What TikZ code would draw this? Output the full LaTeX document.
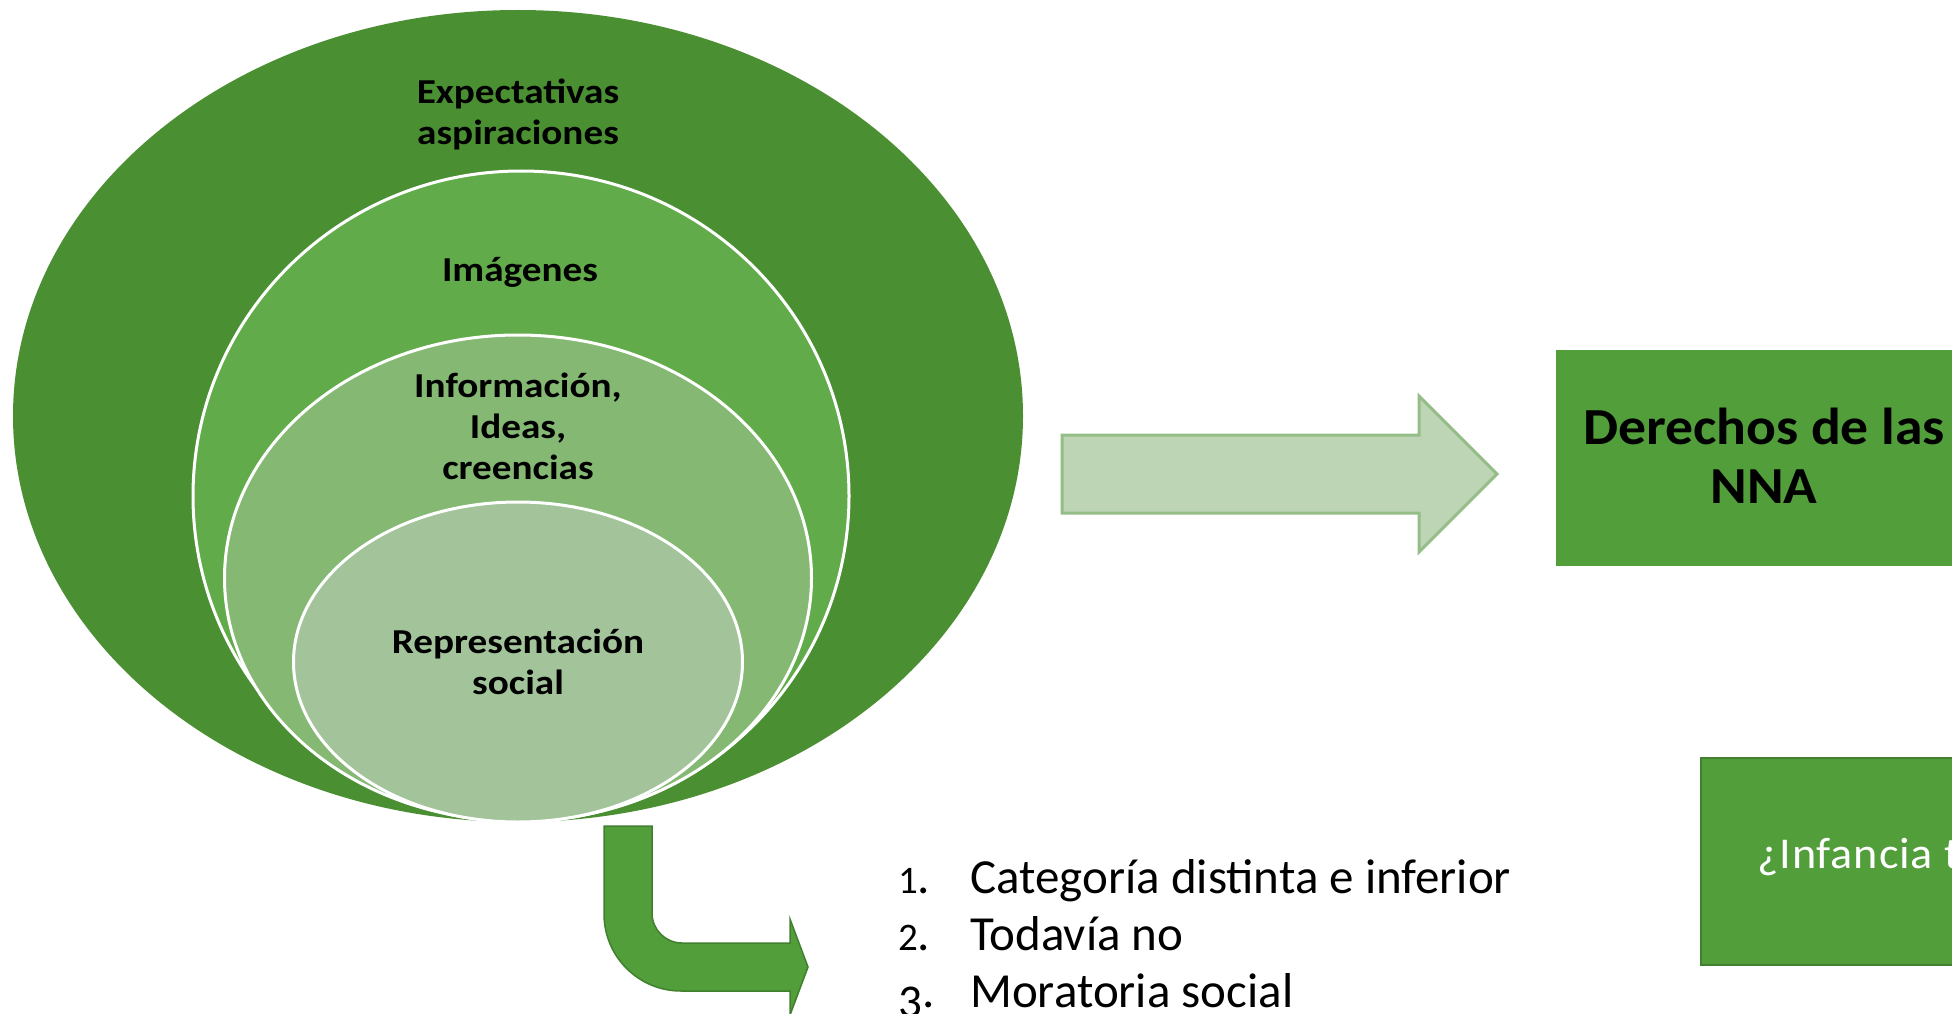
\documentclass[tikz,border=0pt]{standalone}
\usepackage{fontspec}
\setmainfont{Carlito}
\newfontfamily\lblfont[FakeStretch=1.12]{Carlito}
\newfontfamily\boxfont[FakeStretch=1.07]{Carlito}
\newfontfamily\qfont[FakeStretch=1.05,LetterSpace=2]{Carlito}
\newcommand{\smalldig}[1]{{\fontsize{39}{40}\selectfont #1}}
\newcommand{\lowdig}[1]{\raisebox{-10pt}{\fontsize{47}{50}\selectfont #1}}
\usetikzlibrary{shapes.geometric}
\definecolor{gone}{HTML}{4A8F32}
\definecolor{gtwo}{HTML}{62AB4A}
\definecolor{gthree}{HTML}{84B873}
\definecolor{gfour}{HTML}{A3C49B}
\definecolor{afill}{HTML}{BDD5B5}
\definecolor{aline}{HTML}{95BD88}
\definecolor{bfill}{HTML}{529E3B}
\definecolor{bline}{HTML}{41802E}
\tikzset{
  ellnode/.style={ellipse, inner sep=0pt, outer sep=0pt},
  wline/.style={draw=white, line width=3pt},
  lbl/.style={align=center, inner sep=0pt, font=\lblfont\bfseries\fontsize{35}{41}\selectfont},
  lst/.style={anchor=base west, inner sep=0pt, font=\fontsize{49}{57}\selectfont},
  boxnode/.style={rectangle, inner sep=0pt, outer sep=0pt, fill=bfill}
}
\begin{document}
\begin{tikzpicture}[x=1pt,y=-1pt]
\useasboundingbox (0,0) rectangle (1952,1014);
\clip (0,0) rectangle (1952,1014);
\fill[white] (0,0) rectangle (1952,1014);
% nested ellipses
\node[ellnode, fill=gone, minimum width=1010pt, minimum height=812pt] (e1) at (518,416) {};
\node[ellnode, wline, fill=gtwo, minimum width=656pt, minimum height=650pt] (e2) at (521,496) {};
\node[ellnode, wline, fill=gthree, minimum width=587pt, minimum height=486pt] (e3) at (518,578) {};
\node[ellnode, wline, fill=gfour, minimum width=449pt, minimum height=320pt] (e4) at (518,662) {};
\node[lbl] (t1) at (518,114) {Expectativas\\aspiraciones};
\node[lbl] (t2) at (520,272) {Imágenes};
\node[lbl] (t3) at (518,426) {Información,\\Ideas,\\creencias};
\node[lbl] (t4) at (518,662) {Representación\\social};
% light block arrow
\draw[draw=aline, line width=3pt, fill=afill, line join=miter]
  (1062,435) -- (1419,435) -- (1419,396) -- (1497,474) -- (1419,552) -- (1419,513) -- (1062,513) -- cycle;
% right boxes
\node[boxnode, minimum width=418pt, minimum height=216pt] (b1) at (1765,458) {};
\node[align=center, inner sep=0pt, font=\boxfont\bfseries\fontsize{52}{59}\selectfont] (d1) at (1764,456) {Derechos de las\\NNA};
\node[boxnode, draw=bline, line width=2pt, minimum width=500pt, minimum height=207pt] (b2) at (1951,861.5) {};
\node[anchor=base west, inner sep=0pt, text=white, font=\qfont\fontsize{44}{50}\selectfont] (q) at (1757,868) {¿Infancia t};
% bent arrow
\draw[draw=bline, line width=1.5pt, fill=bfill, line join=miter]
  (604,826) -- (652,826) -- (652,913) .. controls (652,929.6) and (665.4,943) .. (682,943)
  -- (790,943) -- (790,919) -- (808,967) -- (790,1015) -- (790,991) -- (681,991)
  .. controls (638.5,991) and (604,956.5) .. (604,914) -- cycle;
% list
\node[lst] (n1) at (898,893) {\smalldig{1}.};
\node[lst] (l1) at (970,893) {Categoría distinta e inferior};
\node[lst] (n2) at (898,950) {\smalldig{2}.};
\node[lst] (l2) at (970,950) {Todavía no};
\node[lst] (n3) at (898,1007) {\lowdig{3}.};
\node[lst] (l3) at (970,1007) {Moratoria social};
\end{tikzpicture}
\end{document}
